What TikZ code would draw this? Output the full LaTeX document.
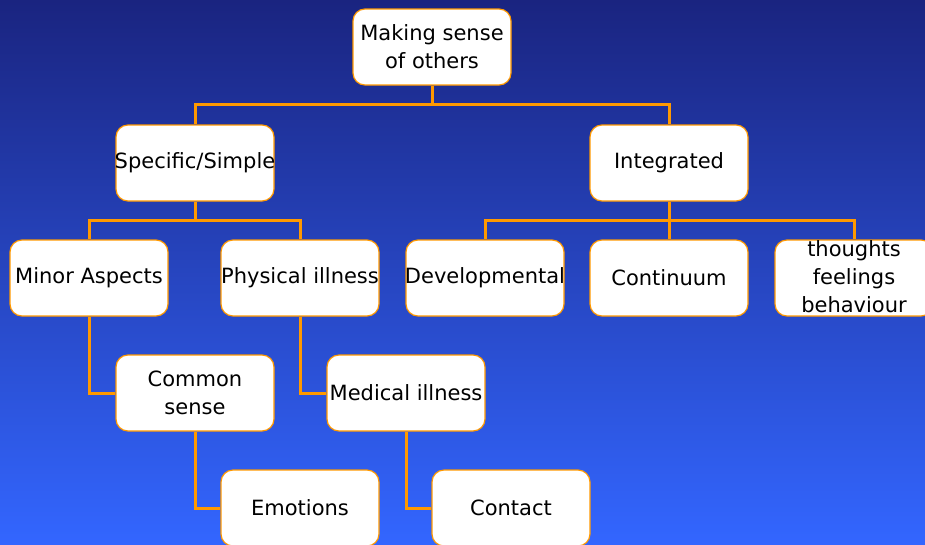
\documentclass[tikz,border=0pt]{standalone}
\usepackage{fontspec}
\setmainfont{DejaVu Sans}
\definecolor{linkorange}{RGB}{255,153,0}
\definecolor{bgtop}{RGB}{26,36,128}
\definecolor{bgbottom}{RGB}{51,102,255}
\begin{document}
\begin{tikzpicture}[x=1pt, y=-1pt,
	box/.style={draw=linkorange, line width=1.2pt, fill=white, rounded corners=12pt, minimum width=158pt, minimum height=76pt, align=center, inner sep=0pt, font=\fontsize{21}{28}\selectfont},
	link/.style={draw=linkorange, line width=3pt}]
		\useasboundingbox (0,0) rectangle (925,544);
		\shade[top color=bgtop, bottom color=bgbottom] (0,0) rectangle (925,544);
		\clip (0,0) rectangle (925,544);
		\node[box] (top) at (432,47) {Making sense\\of others};
		\node[box] (spec) at (195,163) {\makebox[150pt]{Specific/Simple}};
		\node[box] (integ) at (669,163) {Integrated};
		\node[box] (minor) at (89,278) {Minor Aspects};
		\node[box] (phys) at (300,278) {\makebox[150pt]{Physical illness}};
		\node[box] (devel) at (485,278) {\makebox[150pt]{Developmental}};
		\node[box] (cont) at (669,278) {Continuum};
		\node[box] (tfb) at (854,278) {\smash{\raisebox{-6pt}{\begin{tabular}{@{}c@{}}thoughts\\feelings\\behaviour\end{tabular}}}};
		\node[box] (common) at (195,393) {Common\\sense};
		\node[box] (medic) at (406,393) {Medical illness};
		\node[box] (emot) at (300,508) {Emotions};
		\node[box] (contact) at (511,508) {Contact};
		% tree links
		\draw[link] (top.south) -- ++(0,19) -| (spec.north);
		\draw[link] (top.south) -- ++(0,19) -| (integ.north);
		\draw[link] (spec.south) -- ++(0,19) -| (minor.north);
		\draw[link] (spec.south) -- ++(0,19) -| (phys.north);
		\draw[link] (integ.south) -- ++(0,19) -| (devel.north);
		\draw[link] (integ.south) -- (cont.north);
		\draw[link] (integ.south) -- ++(0,19) -| (tfb.north);
		\draw[link] (minor.south) |- (common.west);
		\draw[link] (phys.south) |- (medic.west);
		\draw[link] (common.south) |- (emot.west);
		\draw[link] (medic.south) |- (contact.west);
\end{tikzpicture}
\end{document}
